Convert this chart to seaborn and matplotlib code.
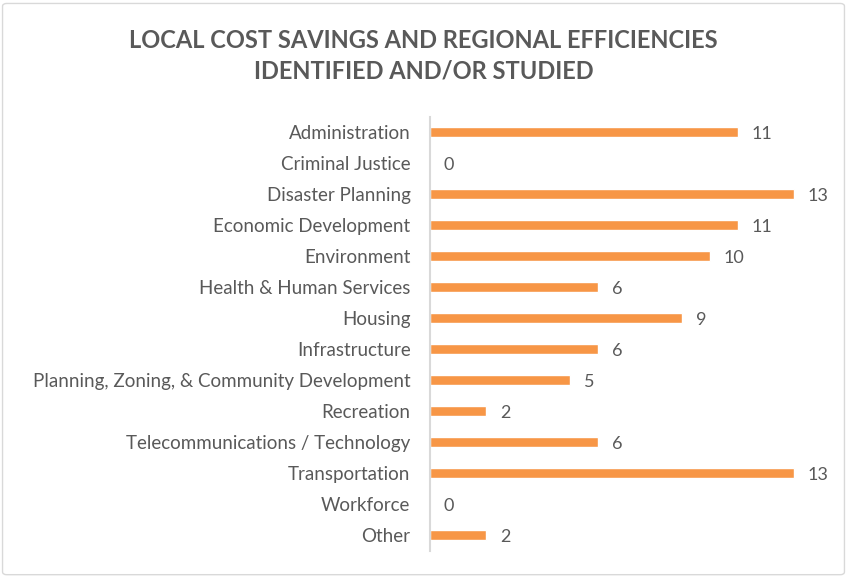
import matplotlib
matplotlib.use("Agg")
import matplotlib.pyplot as plt
import seaborn as sns
import pandas as pd
from matplotlib.patches import FancyBboxPatch

categories = [
    "Administration", "Criminal Justice", "Disaster Planning", "Economic Development",
    "Environment", "Health & Human Services", "Housing", "Infrastructure",
    "Planning, Zoning, & Community Development", "Recreation",
    "Telecommunications / Technology", "Transportation", "Workforce", "Other",
]
counts = [11, 0, 13, 11, 10, 6, 9, 6, 5, 2, 6, 13, 0, 2]
title = "LOCAL COST SAVINGS AND REGIONAL EFFICIENCIES\nIDENTIFIED AND/OR STUDIED"

df = pd.DataFrame({"Category": categories, "Count": counts})

sns.set_style("white")
plt.rcParams["font.family"] = ["Lato", "DejaVu Sans"]
text_color = "#595959"

fig = plt.figure(figsize=(8.47, 5.77), dpi=100)
ax = fig.add_axes([0.5077, 0.0459, 0.4623, 0.7521])

sns.barplot(data=df, x="Count", y="Category", color="#F79646", width=0.35,
            saturation=1, ax=ax)

ax.set_xlim(0, 14)
ax.set_xlabel("")
ax.set_ylabel("")
ax.set_xticks([])
ax.tick_params(axis="y", length=0, pad=14, labelsize=13.5, labelcolor=text_color)
for s in ["top", "right", "bottom"]:
    ax.spines[s].set_visible(False)
ax.spines["left"].set_color("#d9d9d9")
ax.spines["left"].set_linewidth(1.5)

for i, v in enumerate(counts):
    ax.annotate(str(v), xy=(v, i), xytext=(10, 0), textcoords="offset points",
                va="center_baseline", ha="left", fontsize=13, color=text_color)

fig.text(0.5, 0.903, title, ha="center", va="center", fontsize=17,
         fontweight="bold", color=text_color, linespacing=1.4)

border = FancyBboxPatch((0.003, 0.004), 0.994, 0.99, boxstyle="round,pad=0,rounding_size=0.005",
                        transform=fig.transFigure, fill=False, edgecolor="#d9d9d9", linewidth=1)
fig.patches.append(border)

fig.savefig("out.png", dpi=100)
